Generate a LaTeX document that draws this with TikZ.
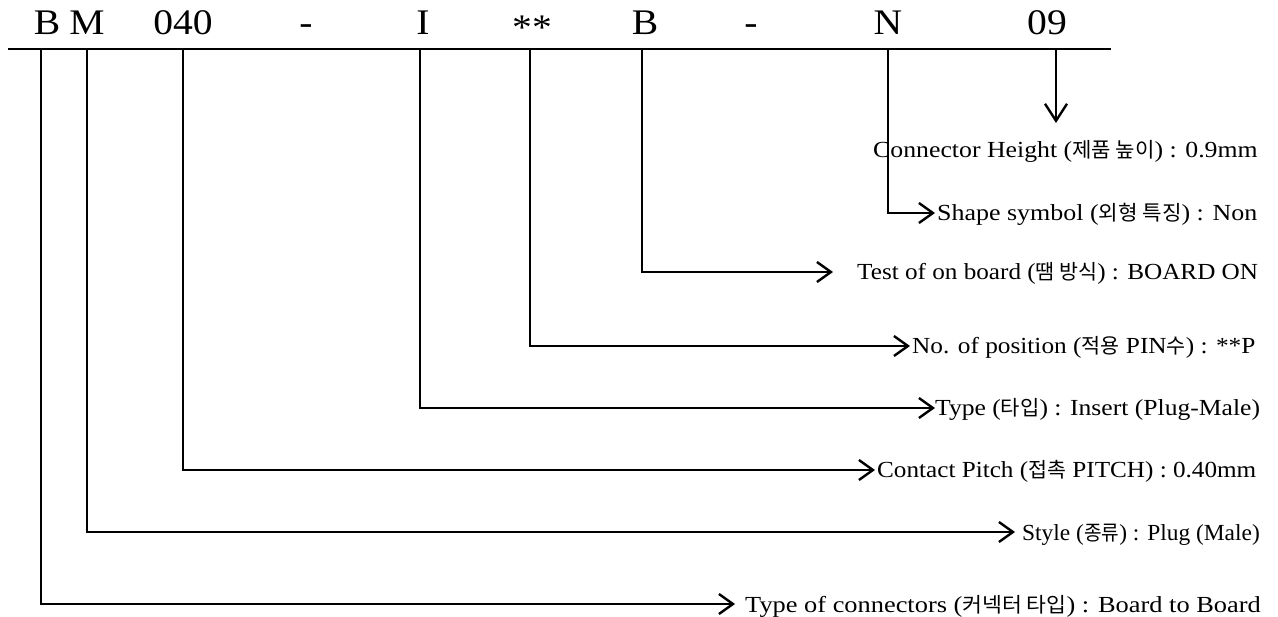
\documentclass[tikz,border=0pt]{standalone}
\usepackage{graphicx}
\usepackage{fontspec}
\setmainfont{Liberation Serif}[FakeStretch=1.1]
\newfontfamily\krfont{Noto Sans CJK KR}[Scale=0.9]
\usetikzlibrary{arrows.meta}
\newcommand{\kr}[1]{{\krfont #1}}
\newcommand{\hs}[2]{\scalebox{#1}[1]{#2}}
\tikzset{
  hd/.style={anchor=base,inner sep=0pt,font=\fontsize{36}{40}\selectfont},
  lb/.style={anchor=base west,inner sep=0pt,font=\fontsize{23}{26}\selectfont},
  ln/.style={line width=2pt},
  arr/.style={line width=2pt,-{Straight Barb[length=14pt,width=20pt,line width=2.4pt]}},
  darr/.style={line width=2pt,-{Straight Barb[length=17pt,width=22pt,line width=2.4pt]}}
}
\begin{document}
\begin{tikzpicture}[x=1pt,y=-1pt]
\useasboundingbox (0,0) rectangle (1278,617);
% header
\node[hd] (h1) at (47,35) {B};
\node[hd] (h2) at (87,35) {M};
\node[hd] (h3) at (183,35) {040};
\node[hd] (h4) at (306,35) {-};
\node[hd] (h5) at (423,35) {I};
\node[hd] (h6) at (532,35) {\raisebox{-5pt}{**}};
\node[hd] (h7) at (645,35) {B};
\node[hd] (h8) at (751,35) {-};
\node[hd] (h9) at (888,35) {N};
\node[hd] (h10) at (1047,35) {09};
\coordinate (L0) at (8,49);
\coordinate (L1) at (1111,49);
\draw[ln] (L0) -- (L1);
% start points on the line
\coordinate (s1) at (41,49);
\coordinate (s2) at (87,49);
\coordinate (s3) at (183,49);
\coordinate (s5) at (420,49);
\coordinate (s6) at (530,49);
\coordinate (s7) at (642,49);
\coordinate (s9) at (888,49);
\coordinate (s10) at (1056,49);
% arrow tips
\coordinate (t1) at (735,604);
\coordinate (t2) at (1015,532);
\coordinate (t3) at (875,470);
\coordinate (t5) at (935,408);
\coordinate (t6) at (910,346);
\coordinate (t7) at (833,272);
\coordinate (t9) at (935,213);
\coordinate (t10) at (1056,123);
% labels
\node[lb] (l10) at (873,158) {\hs{1.019}{Connector Height (\kr{제품 높이}) : 0.9mm}};
\node[lb] (l9) at (937,221) {\hs{1.026}{Shape symbol (\kr{외형 특징}) : Non}};
\node[lb] (l7) at (857,280) {\hs{0.995}{Test of on board (\kr{땜 방식}) : BOARD ON}};
\node[lb] (l6) at (912,354) {No. of position (\kr{적용} PIN\kr{수}) : **P};
\node[lb] (l5) at (935,416) {\hs{1.0125}{Type (\kr{타입}) : Insert (Plug-Male)}};
\node[lb] (l3) at (877,478) {\hs{0.995}{Contact Pitch (\kr{접촉} PITCH) : 0.40mm}};
\node[lb] (l2) at (1022,540) {\hs{0.926}{Style (\kr{종류}) : Plug (Male)}};
\node[lb] (l1) at (745,612) {\hs{1.043}{Type of connectors (\kr{커넥터 타입}) : Board to Board}};
% connectors
\draw[darr] (s10) -- (t10);
\draw[arr] (s9) |- (t9);
\draw[arr] (s7) |- (t7);
\draw[arr] (s6) |- (t6);
\draw[arr] (s5) |- (t5);
\draw[arr] (s3) |- (t3);
\draw[arr] (s2) |- (t2);
\draw[arr] (s1) |- (t1);
\end{tikzpicture}
\end{document}
